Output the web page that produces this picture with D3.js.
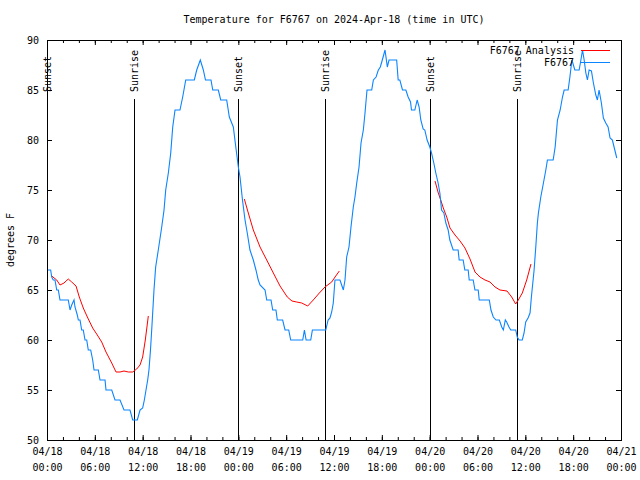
<!DOCTYPE html>
<html><head><meta charset="utf-8">
<script src="https://cdn.jsdelivr.net/npm/d3@7"></script>
<style>
body{margin:0;background:#fff}
svg text{font-family:"DejaVu Sans Mono",monospace;font-size:10px;fill:#000}
</style>
</head><body>
<svg id="chart" width="640" height="480"></svg>
<script>
const titleText = "Temperature for F6767 on 2024-Apr-18 (time in UTC)";
const yLabelText = "degrees F";
const obsName = "F6767";
const anaName = "F6767 Analysis";
const startUTC = "2024-04-18T00:00:00Z";

// observed temperatures: hours since 04/18 00:00 UTC, degrees F
const obsHours = [0.00,0.46,0.59,0.79,1.00,1.22,1.42,1.63,2.67,2.89,3.10,3.39,3.51,3.80,3.93,4.14,4.35,4.55,4.77,4.98,5.18,5.48,5.73,5.90,6.44,6.65,7.28,7.40,8.12,8.53,9.16,9.66,10.41,10.75,11.33,11.67,12.00,12.21,12.42,12.63,12.79,12.98,13.17,13.42,13.63,13.96,14.39,14.68,14.89,15.22,15.52,15.77,16.06,16.68,17.02,17.40,18.48,18.78,19.23,19.61,19.88,20.57,20.79,21.49,21.79,22.54,22.87,23.37,23.62,24.00,24.21,24.52,24.84,25.12,25.46,25.88,26.21,26.50,26.72,27.35,27.56,28.10,28.31,28.72,28.89,29.56,29.86,30.32,30.57,32.08,32.29,32.50,33.08,33.29,34.97,35.26,35.50,35.71,35.91,36.12,36.75,36.96,37.17,37.38,37.59,37.88,38.13,38.42,38.63,38.85,39.14,39.39,39.68,39.89,40.14,40.73,40.94,41.28,41.56,41.81,42.06,42.40,42.69,42.90,43.65,43.86,44.05,44.26,44.59,45.01,45.30,45.60,45.72,46.14,46.43,46.68,46.89,47.18,47.39,47.68,48.02,48.23,48.52,48.77,49.06,49.28,49.49,49.78,50.03,50.32,50.53,50.95,51.57,51.70,52.20,52.41,52.83,52.96,53.46,53.68,54.09,54.22,55.48,55.69,55.98,56.32,56.74,57.04,57.24,57.49,57.66,57.95,58.17,58.79,58.99,59.21,59.62,59.84,60.05,60.34,60.59,60.76,61.10,61.31,61.51,61.64,61.94,62.27,62.57,62.77,63.49,63.74,64.03,64.37,64.66,64.87,65.37,65.59,65.84,66.21,66.75,66.97,67.17,67.38,67.59,67.79,68.00,68.29,68.54,68.84,69.04,69.25,69.54,69.79,70.09,70.38,70.63,70.92,71.13,71.47];
const obsTemps = [67,67,66.3,66,66,65,65,64,64,63,63.5,64,63.3,62.5,62,62,61,61,60,60,59,59,58,57,57,56,56,55,55,54,54,53,53,52,52,53,53.2,54,55,56,57,59,61.5,65,67.3,69,71.3,73,75,76.7,78.7,81.3,83,83,84.3,86,86,87,88,87,86,86,85,85,84,84,82.3,81.3,79.7,77.3,76.3,74,72,70.7,69,68,67,66,65.5,65,64,64,63,63,62,62,61,61,60,60,61,60,60,61,61,62,62.2,62.8,63.7,66,66,65.5,65,66,68.3,69.3,71.3,73.3,74.3,75.7,77.3,79.7,81,82.7,85,85,86,86.3,87,87.3,88,89,87.3,88,88,88,86,86,85,85,84.3,83.8,83,83,84,83.3,82,81.1,81,80,79.3,78.7,77.7,76.7,75.7,74.7,73,72.7,71.7,71,70,69,69,68,68,67,67,66,66,65,65,64,64,63,62.3,62,62,61.3,61,62,61.8,61.3,61,61,60.3,60,60,60.7,61.8,62.2,62.7,64.3,67,69.3,71.7,72.7,74.3,75.7,77,78,78,79.3,82,83,84.3,85,85,86.3,88,87,87,88,89,88,86.7,86,87,86.9,85.7,84.5,84,85,83.7,82.2,81.7,81.3,80.2,80,79.3,78.2];

// analysis temperatures (null = gap between runs)
const anaHours = [0.59,1.22,1.63,2.13,2.67,3.10,3.64,4.05,4.55,5.06,5.73,6.31,6.86,7.40,8.12,8.66,9.16,9.66,10.20,10.75,11.25,11.67,12.00,12.33,12.71,
  12.72,
  24.75,25.25,25.88,26.72,27.56,28.39,29.23,30.14,30.73,31.32,31.95,32.70,33.40,34.16,34.87,35.71,36.13,36.67,
  36.68,
  48.67,49.08,49.39,49.71,50.14,50.55,51.18,51.81,52.43,53.06,53.69,54.31,54.94,55.57,56.20,56.82,57.70,58.29,58.79,59.12,59.62,60.17,60.71];
const anaTemps = [66.4,66,65.5,65.7,66.1,65.8,65.4,64.3,63.2,62.3,61.2,60.5,59.8,58.8,57.7,56.8,56.8,56.9,56.8,56.8,57.1,57.5,58.3,60,62.4,
  null,
  74.1,72.7,71,69.3,68,66.7,65.4,64.3,63.9,63.8,63.7,63.4,64,64.7,65.3,65.8,66.3,66.9,
  null,
  75.9,74.7,74,73.2,72.3,71.2,70.5,69.9,69.2,68.1,66.8,66.3,66,65.8,65.3,65,64.9,64.3,63.6,64,64.7,66,67.6];

const sunLabels = ["Sunset","Sunrise","Sunset","Sunrise","Sunset","Sunrise"];
const sunHours  = [0.0,10.95,24.0,34.9,48.04,58.97];

const yTicks = [50,55,60,65,70,75,80,85,90];
const xMajorHours = [0,6,12,18,24,30,36,42,48,54,60,66,72];
const xMinorHours = d3.range(0,73,2);

const W=640,H=480, L=47, R=621, T=40, B=440;
const t0 = new Date(startUTC).getTime();
const toDate = h => new Date(t0 + h*3600e3);

const svg = d3.select("#chart");
const x = d3.scaleUtc().domain([toDate(0), toDate(72)]).range([L, R]);
const y = d3.scaleLinear().domain([50, 90]).range([B, T]);

svg.append("rect").attr("width",W).attr("height",H).attr("fill","#fff");

// title
svg.append("text").attr("x",(L+R)/2).attr("y",19).attr("dy","0.35em")
  .attr("text-anchor","middle").text(titleText);
// y label
svg.append("text").attr("transform","translate(10,240) rotate(-90)")
  .attr("text-anchor","middle").attr("dy","0.35em").text(yLabelText);

// axes
const fmtD = d3.utcFormat("%m/%d"), fmtT = d3.utcFormat("%H:%M");
const xb = svg.append("g").attr("transform",`translate(0,${B})`)
  .call(d3.axisBottom(x).tickValues(xMajorHours.map(toDate)).tickSize(-5).tickPadding(8).tickFormat(""));
xb.select(".domain").remove();
xb.selectAll(".tick text").each(function(d){
  const t = d3.select(this);
  t.append("tspan").attr("x",0).text(fmtD(d));
  t.append("tspan").attr("x",0).attr("dy","1.6em").text(fmtT(d));
});
const xbm = svg.append("g").attr("transform",`translate(0,${B})`)
  .call(d3.axisBottom(x).tickValues(xMinorHours.map(toDate)).tickSize(-3).tickFormat(""));
xbm.select(".domain").remove();
const xt = svg.append("g").attr("transform",`translate(0,${T})`)
  .call(d3.axisTop(x).tickValues(xMajorHours.map(toDate)).tickSize(-5).tickFormat(""));
xt.select(".domain").remove();
const xtm = svg.append("g").attr("transform",`translate(0,${T})`)
  .call(d3.axisTop(x).tickValues(xMinorHours.map(toDate)).tickSize(-3).tickFormat(""));
xtm.select(".domain").remove();

const yl = svg.append("g").attr("transform",`translate(${L},0)`)
  .call(d3.axisLeft(y).tickValues(yTicks).tickSize(-5).tickPadding(8));
yl.select(".domain").remove();
const yr = svg.append("g").attr("transform",`translate(${R},0)`)
  .call(d3.axisRight(y).tickValues(yTicks).tickSize(-5).tickFormat(""));
yr.select(".domain").remove();
svg.selectAll(".tick text").attr("font-family",null).attr("font-size",null).attr("fill","#000");
svg.selectAll(".tick line").attr("stroke","#000");

// sun events
const sun = svg.append("g");
sunHours.forEach((h,i)=>{
  const sx = Math.round(x(toDate(h))) + 0.5;
  sun.append("line").attr("x1",sx).attr("x2",sx).attr("y1",99).attr("y2",B)
    .attr("stroke","#000").attr("stroke-width",1);
  sun.append("text").attr("transform",`translate(${sx},92) rotate(-90)`)
    .attr("dy","0.35em").attr("text-anchor","start").text(sunLabels[i]);
});

// data lines
const line = d3.line().defined(d=>d[1]!=null)
  .x(d=>x(toDate(d[0]))).y(d=>y(d[1]));
const anaData = anaHours.map((h,i)=>[h, anaTemps[i]]);
const obsData = obsHours.map((h,i)=>[h, obsTemps[i]]);
svg.append("path").datum(anaData).attr("d",line)
  .attr("fill","none").attr("stroke","#ff0000").attr("stroke-width",1);
svg.append("path").datum(obsData).attr("d",line)
  .attr("fill","none").attr("stroke","#0a84ff").attr("stroke-width",1.1);

// border
svg.append("rect").attr("x",L+0.5).attr("y",T+0.5).attr("width",R-L).attr("height",B-T)
  .attr("fill","none").attr("stroke","#000").attr("stroke-width",1);

// legend
const leg = [[anaName,"#ff0000",50],[obsName,"#0a84ff",62]];
leg.forEach(([name,col,ly])=>{
  svg.append("text").attr("x",574).attr("y",ly).attr("dy","0.35em").attr("text-anchor","end").text(name);
  svg.append("line").attr("x1",581).attr("x2",610).attr("y1",ly+0.5).attr("y2",ly+0.5)
    .attr("stroke",col).attr("stroke-width",1);
});
</script>
</body></html>
